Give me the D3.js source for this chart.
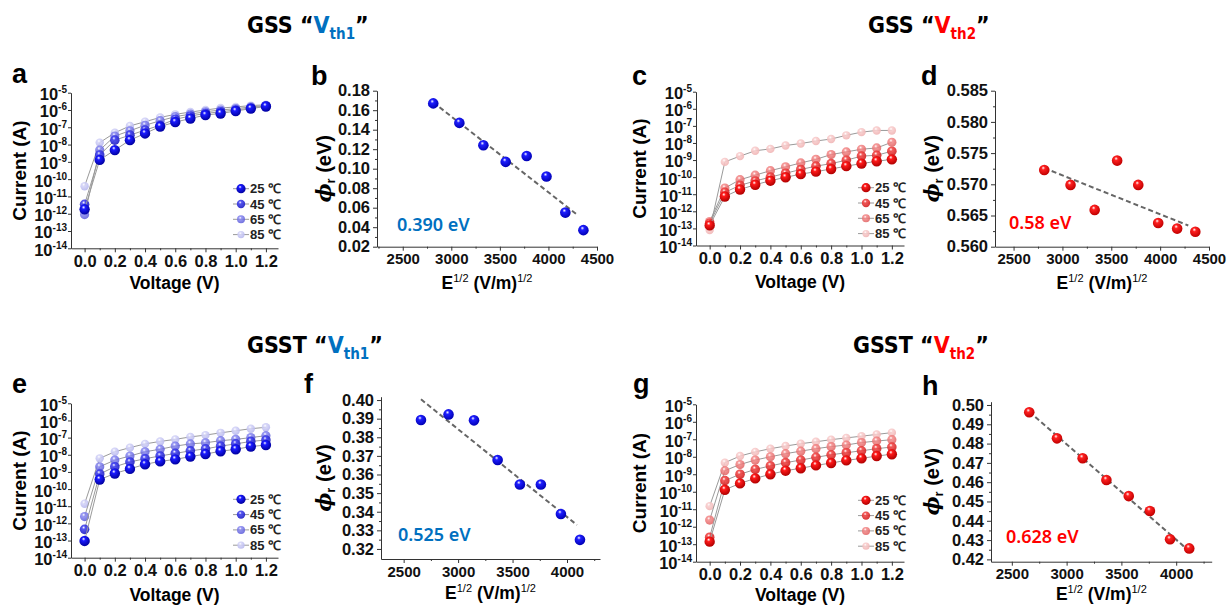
<!DOCTYPE html>
<html>
<head>
<meta charset="utf-8">
<script src="https://cdn.jsdelivr.net/npm/d3@7"></script>
<style>
body { margin: 0; background: #fff; }
svg { display: block; font-family: "Liberation Sans", Arial, sans-serif; }
</style>
</head>
<body>
<svg id="fig" width="1227" height="606"></svg>
<script>
// ---- data ----
const voltage = [0, 0.1, 0.2, 0.3, 0.4, 0.5, 0.6, 0.7, 0.8, 0.9, 1.0, 1.1, 1.2];
const temps = ["25", "45", "65", "85"];

// panel a : GSS Vth1, current (A) per temperature
const ivA25 = [1.8e-12, 1.3e-9, 4.8e-9, 1.8e-8, 4.4e-8, 1.1e-7, 2.0e-7, 3.2e-7, 5.1e-7, 6.3e-7, 8.7e-7, 1.2e-6, 1.6e-6];
const ivA45 = [3.5e-12, 2.5e-9, 1.8e-8, 3.5e-8, 6.9e-8, 1.3e-7, 2.9e-7, 4.5e-7, 6.3e-7, 7.9e-7, 1.0e-6, 1.3e-6, 1.7e-6];
const ivA65 = [8.9e-13, 4.8e-9, 3.1e-8, 6.3e-8, 1.3e-7, 2.4e-7, 4.1e-7, 5.8e-7, 7.9e-7, 1.0e-6, 1.2e-6, 1.5e-6, 1.8e-6];
const ivA85 = [3.9e-11, 1.3e-8, 4.8e-8, 1.2e-7, 2.1e-7, 3.7e-7, 5.6e-7, 7.6e-7, 1.0e-6, 1.3e-6, 1.5e-6, 1.8e-6, 2.0e-6];

// panel c : GSS Vth2
const ivC25 = [1.5e-13, 7.4e-12, 1.9e-11, 3.6e-11, 6.2e-11, 9.8e-11, 1.5e-10, 2.1e-10, 3.0e-10, 4.4e-10, 6.2e-10, 8.5e-10, 1.1e-9];
const ivC45 = [2.0e-13, 1.3e-11, 3.3e-11, 6.0e-11, 1.0e-10, 1.7e-10, 2.8e-10, 4.4e-10, 6.2e-10, 9.8e-10, 1.7e-9, 1.9e-9, 3.3e-9];
const ivC65 = [2.5e-13, 2.3e-11, 7.1e-11, 1.3e-10, 2.4e-10, 4.0e-10, 6.8e-10, 1.1e-9, 2.1e-9, 3.0e-9, 4.3e-9, 5.1e-9, 1.1e-8];
const ivC85 = [8.0e-14, 7.8e-10, 1.7e-9, 3.5e-9, 4.5e-9, 7.1e-9, 9.3e-9, 1.3e-8, 1.7e-8, 2.8e-8, 4.3e-8, 5.4e-8, 5.4e-8];

// panel e : GSST Vth1
const ivE25 = [9.5e-14, 3.6e-10, 8.1e-10, 1.5e-9, 2.8e-9, 4.1e-9, 5.4e-9, 7.8e-9, 1.1e-8, 1.6e-8, 2.1e-8, 3.0e-8, 3.7e-8];
const ivE45 = [4.5e-13, 7.6e-10, 2.0e-9, 3.8e-9, 5.9e-9, 8.5e-9, 1.2e-8, 1.7e-8, 2.2e-8, 3.2e-8, 4.3e-8, 6.0e-8, 7.2e-8];
const ivE65 = [2.5e-12, 2.0e-9, 4.9e-9, 8.5e-9, 1.5e-8, 2.1e-8, 3.2e-8, 4.3e-8, 5.0e-8, 6.6e-8, 7.9e-8, 1.0e-7, 1.3e-7];
const ivE85 = [1.4e-11, 6.2e-9, 1.5e-8, 2.6e-8, 4.3e-8, 6.0e-8, 7.9e-8, 1.1e-7, 1.4e-7, 1.9e-7, 2.5e-7, 3.3e-7, 4.0e-7];

// panel g : GSST Vth2
const ivG25 = [1.4e-13, 1.3e-10, 3.0e-10, 5.8e-10, 1.0e-9, 1.6e-9, 2.2e-9, 3.2e-9, 4.4e-9, 6.2e-9, 8.1e-9, 1.1e-8, 1.4e-8];
const ivG45 = [2.5e-13, 4.3e-10, 1.0e-9, 1.9e-9, 3.0e-9, 4.6e-9, 6.5e-9, 9.3e-9, 1.3e-8, 1.7e-8, 2.2e-8, 2.9e-8, 3.6e-8];
const ivG65 = [2.4e-12, 1.6e-9, 3.6e-9, 6.5e-9, 1.0e-8, 1.5e-8, 2.1e-8, 2.9e-8, 3.8e-8, 4.7e-8, 6.5e-8, 7.9e-8, 9.5e-8];
const ivG85 = [1.5e-11, 4.6e-9, 1.1e-8, 1.9e-8, 2.9e-8, 4.1e-8, 5.6e-8, 7.2e-8, 9.5e-8, 1.2e-7, 1.5e-7, 1.9e-7, 2.4e-7];

const logTicks = [1e-5, 1e-6, 1e-7, 1e-8, 1e-9, 1e-10, 1e-11, 1e-12, 1e-13, 1e-14];
const voltTicks = [0, 0.2, 0.4, 0.6, 0.8, 1.0, 1.2];

// Poole-Frenkel plots: E^1/2 vs barrier height
const sqrtEGss = [2814, 3083, 3330, 3560, 3776, 3980, 4174, 4360];
const sqrtEGsst = [2659, 2912, 3146, 3363, 3567, 3760, 3944, 4119];
const phiB = [0.167, 0.147, 0.124, 0.107, 0.113, 0.092, 0.055, 0.037];
const phiD = [0.5723, 0.5699, 0.5659, 0.5738, 0.5699, 0.5638, 0.5629, 0.5624];
const phiF = [0.3893, 0.3923, 0.3891, 0.3678, 0.3546, 0.3546, 0.3388, 0.3249];
const phiH = [0.4962, 0.4827, 0.4724, 0.4611, 0.4528, 0.4451, 0.4304, 0.4257];
const fitBx = [2814, 4306], fitBy = [0.168, 0.052];
const fitDx = [2814, 4288], fitDy = [0.5726, 0.5634];
const fitFx = [2659, 4091], fitFy = [0.4004, 0.3329];
const fitHx = [2659, 4119], fitHy = [0.4965, 0.4243];
const ticksB = [0.02, 0.04, 0.06, 0.08, 0.10, 0.12, 0.14, 0.16, 0.18];
const ticksD = [0.560, 0.565, 0.570, 0.575, 0.580, 0.585];
const ticksF = [0.32, 0.33, 0.34, 0.35, 0.36, 0.37, 0.38, 0.39, 0.40];
const ticksH = [0.42, 0.43, 0.44, 0.45, 0.46, 0.47, 0.48, 0.49, 0.50];
const eTicksGss = [2500, 3000, 3500, 4000, 4500];
const eTicksGsst = [2500, 3000, 3500, 4000];

const BLUE_TXT = "#0070c0", RED_TXT = "#ff0000";

const svg = d3.select("#fig");
const defs = svg.append("defs");

function sphere(id, base, dark) {
  const g = defs.append("radialGradient").attr("id", id)
    .attr("cx", "42%").attr("cy", "38%").attr("r", "62%")
    .attr("fx", "40%").attr("fy", "30%");
  g.append("stop").attr("offset", "0%").attr("stop-color", "#ffffff");
  g.append("stop").attr("offset", "28%").attr("stop-color", base);
  g.append("stop").attr("offset", "100%").attr("stop-color", dark);
}
// series styles, 25 -> 85 C
const blueSeries = [
  { id: "b25", base: "#1a1aff", dark: "#0000a0", op: 1, r: 5.2 },
  { id: "b45", base: "#4646f2", dark: "#1c1cc0", op: 0.9, r: 4.8 },
  { id: "b65", base: "#8a8af2", dark: "#5a5ad8", op: 0.85, r: 4.6 },
  { id: "b85", base: "#d6d6f8", dark: "#b8b8ee", op: 0.9, r: 4.2 }
];
const redSeries = [
  { id: "r25", base: "#ff1a1a", dark: "#b00000", op: 1, r: 5.2 },
  { id: "r45", base: "#f34a4a", dark: "#d02020", op: 0.9, r: 4.8 },
  { id: "r65", base: "#f58a8a", dark: "#e06060", op: 0.85, r: 4.6 },
  { id: "r85", base: "#f9d0d0", dark: "#f0b4b4", op: 0.9, r: 4.2 }
];
blueSeries.concat(redSeries).forEach(s => sphere(s.id, s.base, s.dark));
sphere("ballBlue", "#1e1eff", "#0000b4");
sphere("ballRed", "#ff2020", "#c00000");

function letter(t, x, y) {
  svg.append("text").attr("x", x).attr("y", y)
    .attr("font-size", 27).attr("font-weight", "bold").text(t);
}

function title(x, y, name, sub, col) {
  const t = svg.append("text").attr("x", x).attr("y", y)
    .attr("font-family", "'Liberation Sans Narrow', 'DejaVu Sans Condensed', Roboto, sans-serif")
    .attr("font-size", 23).attr("font-weight", "bold");
  t.append("tspan").text(name + " \u201C");
  t.append("tspan").attr("fill", col).text("V");
  t.append("tspan").attr("fill", col).attr("dy", 6).attr("font-size", 15).text(sub);
  t.append("tspan").attr("dy", -6).text("\u201D");
}

function yTitleCurrent(x, y) {
  svg.append("text").attr("transform", `translate(${x},${y}) rotate(-90)`)
    .attr("text-anchor", "middle").attr("font-size", 19).attr("font-weight", "bold")
    .text("Current (A)");
}
function yTitlePhi(x, y) {
  const t = svg.append("text").attr("transform", `translate(${x},${y}) rotate(-90)`)
    .attr("text-anchor", "middle").attr("font-size", 20).attr("font-weight", "bold");
  t.append("tspan").attr("font-style", "italic").attr("font-family", "'DejaVu Serif', serif").text("\u03D5");
  t.append("tspan").attr("font-size", 13).attr("dy", 4).text("r");
  t.append("tspan").attr("dy", -4).text(" (eV)");
}
function xTitleVolt(x, y) {
  svg.append("text").attr("x", x).attr("y", y).attr("text-anchor", "middle")
    .attr("font-size", 17.5).attr("font-weight", "bold").text("Voltage (V)");
}
function xTitleE(x, y) {
  const t = svg.append("text").attr("x", x).attr("y", y).attr("text-anchor", "middle")
    .attr("font-size", 17.5).attr("font-weight", "bold");
  t.append("tspan").text("E");
  t.append("tspan").attr("font-size", 11).attr("font-weight", "normal").attr("dy", -7).text("1/2");
  t.append("tspan").attr("dy", 7).text("  (V/m)");
  t.append("tspan").attr("font-size", 11).attr("font-weight", "normal").attr("dy", -7).text("1/2");
}

function styleAxis(g, fs) {
  g.select(".domain").attr("stroke", "#333").attr("stroke-width", 1);
  g.selectAll(".tick line").attr("stroke", "#333");
  g.selectAll("text").attr("font-size", fs).attr("font-weight", "bold")
    .attr("font-family", "'Liberation Sans', Arial, sans-serif").attr("fill", "#111");
}

function ivPanel(p) {
  const x = d3.scaleLinear().domain([-0.09, 1.28]).range([p.left, p.right]);
  const y = d3.scaleLog().domain([1e-14, 1e-5]).range([p.bottom, p.top]);

  // minor x ticks
  const minorX = d3.axisBottom(x).tickValues([0.1, 0.3, 0.5, 0.7, 0.9, 1.1]).tickSize(2).tickFormat("");
  svg.append("g").attr("transform", `translate(0,${p.bottom})`).call(minorX)
    .call(g => g.select(".domain").remove()).selectAll("line").attr("stroke", "#333");

  const gx = svg.append("g").attr("transform", `translate(0,${p.bottom})`)
    .call(d3.axisBottom(x).tickValues(voltTicks).tickSize(4).tickSizeOuter(0).tickPadding(3).tickFormat(d3.format(".1f")));
  styleAxis(gx, 16.5);

  const gy = svg.append("g").attr("transform", `translate(${p.left},0)`)
    .call(d3.axisLeft(y).tickValues(logTicks).tickSize(3).tickSizeOuter(0).tickFormat(""));
  styleAxis(gy, 16);
  gy.selectAll(".tick").append("text")
    .attr("x", -4).attr("dy", "0.42em").attr("text-anchor", "end")
    .attr("font-size", 16.5).attr("font-weight", "bold").attr("fill", "#111")
    .each(function (d) {
      const t = d3.select(this);
      t.append("tspan").text("10");
      t.append("tspan").attr("font-size", 10).attr("dy", -7).text(String(Math.round(Math.log10(d))));
    });

  const line = d3.line().x((d, i) => x(voltage[i])).y(d => y(d));
  // draw 85 first so 25 sits on top
  for (let k = p.series.length - 1; k >= 0; k--) {
    const s = p.style[k];
    svg.append("path").datum(p.series[k]).attr("d", line)
      .attr("fill", "none").attr("stroke", "#9a9a9a").attr("stroke-width", 1);
    svg.append("g").selectAll("circle").data(p.series[k]).join("circle")
      .attr("cx", (d, i) => x(voltage[i])).attr("cy", d => y(d)).attr("r", s.r)
      .attr("fill", `url(#${s.id})`).attr("opacity", s.op);
  }

  // legend
  const lx = p.left + 170, ly = p.top + 96;
  temps.forEach((t, i) => {
    const s = p.style[i];
    const yy = ly + i * 15.3;
    svg.append("line").attr("x1", lx - 8).attr("x2", lx + 8).attr("y1", yy).attr("y2", yy)
      .attr("stroke", "#9a9a9a").attr("stroke-width", 1);
    svg.append("circle").attr("cx", lx).attr("cy", yy).attr("r", s.r - 0.6)
      .attr("fill", `url(#${s.id})`).attr("opacity", s.op);
    svg.append("text").attr("x", lx + 9).attr("y", yy + 4.5)
      .attr("font-size", 13).attr("font-weight", "bold").attr("fill", "#222")
      .text(t + " \u2103");
  });

  letter(p.letter, p.letterX, p.letterY);
  yTitleCurrent(p.yTitleX, (p.top + p.bottom) / 2);
  xTitleVolt((p.left + p.right) / 2, p.xTitleY);
}

function phiPanel(p) {
  const x = d3.scaleLinear().domain(p.xDomain).range([p.left, p.right]);
  const y = d3.scaleLinear().domain(p.yDomain).range([p.bottom, p.top]);

  const minorXv = [];
  p.xTicks.forEach(v => { if (v + 250 < p.xDomain[1]) minorXv.push(v + 250); });
  if (p.xTicks[0] - 250 > p.xDomain[0]) minorXv.push(p.xTicks[0] - 250);
  svg.append("g").attr("transform", `translate(0,${p.bottom})`)
    .call(d3.axisBottom(x).tickValues(minorXv).tickSize(2).tickFormat(""))
    .call(g => g.select(".domain").remove()).selectAll("line").attr("stroke", "#333");

  const minorYv = [];
  for (let i = 0; i < p.yTicks.length - 1; i++) minorYv.push((p.yTicks[i] + p.yTicks[i + 1]) / 2);
  svg.append("g").attr("transform", `translate(${p.left},0)`)
    .call(d3.axisLeft(y).tickValues(minorYv).tickSize(2).tickFormat(""))
    .call(g => g.select(".domain").remove()).selectAll("line").attr("stroke", "#333");

  const gx = svg.append("g").attr("transform", `translate(0,${p.bottom})`)
    .call(d3.axisBottom(x).tickValues(p.xTicks).tickSize(4).tickSizeOuter(0).tickPadding(3).tickFormat(d3.format("d")));
  styleAxis(gx, 15);
  const gy = svg.append("g").attr("transform", `translate(${p.left},0)`)
    .call(d3.axisLeft(y).tickValues(p.yTicks).tickSize(4).tickSizeOuter(0).tickPadding(3).tickFormat(d3.format(p.yFmt)));
  styleAxis(gy, 16.5);

  svg.append("line")
    .attr("x1", x(p.fitX[0])).attr("y1", y(p.fitY[0]))
    .attr("x2", x(p.fitX[1])).attr("y2", y(p.fitY[1]))
    .attr("stroke", "#666").attr("stroke-width", 2).attr("stroke-dasharray", "5,3");

  svg.append("g").selectAll("circle").data(p.phi).join("circle")
    .attr("cx", (d, i) => x(p.sqrtE[i])).attr("cy", d => y(d)).attr("r", 5.3)
    .attr("fill", `url(#${p.ball})`);

  svg.append("text").attr("x", p.noteX).attr("y", p.noteY)
    .attr("font-family", "'Noto Sans', 'Open Sans', sans-serif")
    .attr("font-size", 18).attr("font-weight", 600).attr("fill", p.noteColor).text(p.note);

  letter(p.letter, p.letterX, p.letterY);
  yTitlePhi(p.yTitleX, (p.top + p.bottom) / 2);
  xTitleE((p.left + p.right) / 2, p.xTitleY);
}

// ---- titles ----
title(247, 33, "GSS", "th1", BLUE_TXT);
title(868, 33, "GSS", "th2", RED_TXT);
title(247, 353, "GSST", "th1", BLUE_TXT);
title(853, 353, "GSST", "th2", RED_TXT);

// ---- IV panels ----
ivPanel({ left: 71, right: 278, top: 92.7, bottom: 248.3, series: [ivA25, ivA45, ivA65, ivA85],
  style: blueSeries, letter: "a", letterX: 12, letterY: 83, yTitleX: 26, xTitleY: 289 });
ivPanel({ left: 696, right: 904, top: 91.7, bottom: 245.5, series: [ivC25, ivC45, ivC65, ivC85],
  style: redSeries, letter: "c", letterX: 632, letterY: 85, yTitleX: 646, xTitleY: 288 });
ivPanel({ left: 71, right: 278, top: 403.3, bottom: 557.7, series: [ivE25, ivE45, ivE65, ivE85],
  style: blueSeries, letter: "e", letterX: 12, letterY: 393, yTitleX: 26, xTitleY: 601 });
ivPanel({ left: 696, right: 904, top: 404.3, bottom: 561.7, series: [ivG25, ivG45, ivG65, ivG85],
  style: redSeries, letter: "g", letterX: 633, letterY: 393, yTitleX: 646, xTitleY: 601 });

// ---- Poole-Frenkel panels ----
phiPanel({ left: 377, right: 597, top: 90.7, bottom: 246.7, xDomain: [2235, 4500], yDomain: [0.02, 0.18],
  xTicks: eTicksGss, yTicks: ticksB, yFmt: ".2f", sqrtE: sqrtEGss, phi: phiB, fitX: fitBx, fitY: fitBy,
  ball: "ballBlue", note: "0.390 eV", noteX: 397, noteY: 231, noteColor: BLUE_TXT,
  letter: "b", letterX: 311, letterY: 85, yTitleX: 331, xTitleY: 289 });
phiPanel({ left: 995, right: 1209, top: 90.7, bottom: 246.7, xDomain: [2310, 4500], yDomain: [0.56, 0.585],
  xTicks: eTicksGss, yTicks: ticksD, yFmt: ".3f", sqrtE: sqrtEGss, phi: phiD, fitX: fitDx, fitY: fitDy,
  ball: "ballRed", note: "0.58 eV", noteX: 1009, noteY: 229, noteColor: RED_TXT,
  letter: "d", letterX: 921, letterY: 85, yTitleX: 939, xTitleY: 289 });
phiPanel({ left: 381, right: 600, top: 396.7, bottom: 559, xDomain: [2292, 4303], yDomain: [0.3146, 0.4018],
  xTicks: eTicksGsst, yTicks: ticksF, yFmt: ".2f", sqrtE: sqrtEGsst, phi: phiF, fitX: fitFx, fitY: fitFy,
  ball: "ballBlue", note: "0.525 eV", noteX: 398, noteY: 541, noteColor: BLUE_TXT,
  letter: "f", letterX: 304, letterY: 393, yTitleX: 331, xTitleY: 599 });
phiPanel({ left: 991, right: 1211.7, top: 401.7, bottom: 561.7, xDomain: [2310, 4324], yDomain: [0.4188, 0.5017],
  xTicks: eTicksGsst, yTicks: ticksH, yFmt: ".2f", sqrtE: sqrtEGsst, phi: phiH, fitX: fitHx, fitY: fitHy,
  ball: "ballRed", note: "0.628 eV", noteX: 1006, noteY: 543, noteColor: RED_TXT,
  letter: "h", letterX: 922, letterY: 395, yTitleX: 939, xTitleY: 600 });
</script>
</body>
</html>
